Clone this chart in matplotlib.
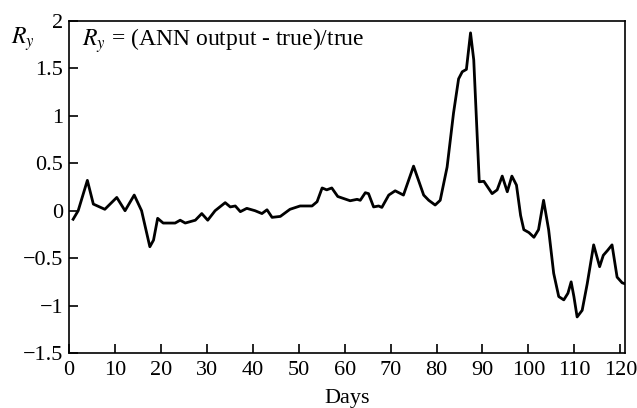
import numpy as np
import matplotlib
matplotlib.use("Agg")
import matplotlib.pyplot as plt

plt.rcParams['font.family'] = ['Liberation Serif', 'DejaVu Serif']
plt.rcParams['mathtext.fontset'] = 'stix'

# values
days = [0.9, 2.0, 4.0, 5.3, 7.8, 10.4, 12.2, 14.2, 15.8, 17.6, 18.4, 19.3, 20.5,
        23.1, 24.2, 25.3, 27.5, 28.9, 30.2, 31.8, 34.0, 35.1, 36.2, 37.3, 38.7,
        40.5, 42.0, 43.1, 44.2, 46.0, 48.1, 50.3, 52.9, 54.0, 55.1, 56.1, 57.2,
        58.5, 61.2, 62.7, 63.4, 64.5, 65.2, 66.3, 67.4, 68.1, 69.6, 71.0, 72.8,
        75.0, 77.2, 78.3, 79.7, 80.8, 82.3, 83.7, 84.8, 85.6, 86.5, 87.4, 88.1,
        89.3, 90.3, 92.1, 93.2, 94.3, 95.4, 96.4, 97.4, 98.3, 99.0, 100.1, 101.2,
        102.2, 103.3, 104.4, 105.5, 106.6, 107.7, 108.6, 109.3, 109.9, 110.6,
        111.7, 112.8, 114.2, 115.5, 116.3, 117.2, 118.2, 119.3, 120.4, 121.0]
ry = [-0.09, 0.0, 0.32, 0.07, 0.015, 0.14, 0.0, 0.165, 0.0, -0.38, -0.31, -0.08, -0.13,
      -0.13, -0.10, -0.13, -0.10, -0.03, -0.10, 0.0, 0.085, 0.04, 0.05, -0.01, 0.025,
      0.0, -0.03, 0.01, -0.07, -0.06, 0.015, 0.05, 0.05, 0.095, 0.24, 0.22, 0.24,
      0.15, 0.105, 0.12, 0.11, 0.19, 0.18, 0.04, 0.05, 0.035, 0.165, 0.21, 0.165,
      0.47, 0.165, 0.11, 0.06, 0.11, 0.46, 1.03, 1.39, 1.465, 1.49, 1.875, 1.59,
      0.305, 0.31, 0.18, 0.22, 0.365, 0.20, 0.365, 0.27, -0.05, -0.20, -0.23, -0.28,
      -0.20, 0.11, -0.20, -0.66, -0.905, -0.94, -0.87, -0.75, -0.905, -1.12,
      -1.05, -0.77, -0.36, -0.59, -0.47, -0.42, -0.36, -0.70, -0.76, -0.77]

xticks = list(range(0, 121, 10))
yticks = [-1.5, -1, -0.5, 0, 0.5, 1, 1.5, 2]
ytick_labels = ['\u22121.5', '\u22121', '\u22120.5', '0', '0.5', '1', '1.5', '2']

fig = plt.figure(figsize=(6.37, 4.08), dpi=100)
ax = fig.add_axes([0.1083, 0.1348, 0.8727, 0.8137])

ax.plot(days, ry, color='black', linewidth=2.0, solid_joinstyle='round')

ax.set_xlim(0, 121)
ax.set_ylim(-1.5, 2)
ax.set_xticks(xticks)
ax.set_yticks(yticks)
ax.set_yticklabels(ytick_labels)
ax.tick_params(direction='in', length=6.5, width=1.2, labelsize=16,
               top=False, right=False)
ax.tick_params(axis='x', pad=6)
ax.tick_params(axis='y', pad=4)
for sp in ax.spines.values():
    sp.set_linewidth(1.2)

ax.set_xlabel('Days', fontsize=16, labelpad=6)
fig.text(0.036, 0.905, r'$R_y$', fontsize=17, ha='center', va='center')
ax.text(0.023, 0.94, r'$R_y$ = (ANN output - true)/true', transform=ax.transAxes,
        fontsize=17, ha='left', va='center')

fig.savefig('out.png', dpi=100)
